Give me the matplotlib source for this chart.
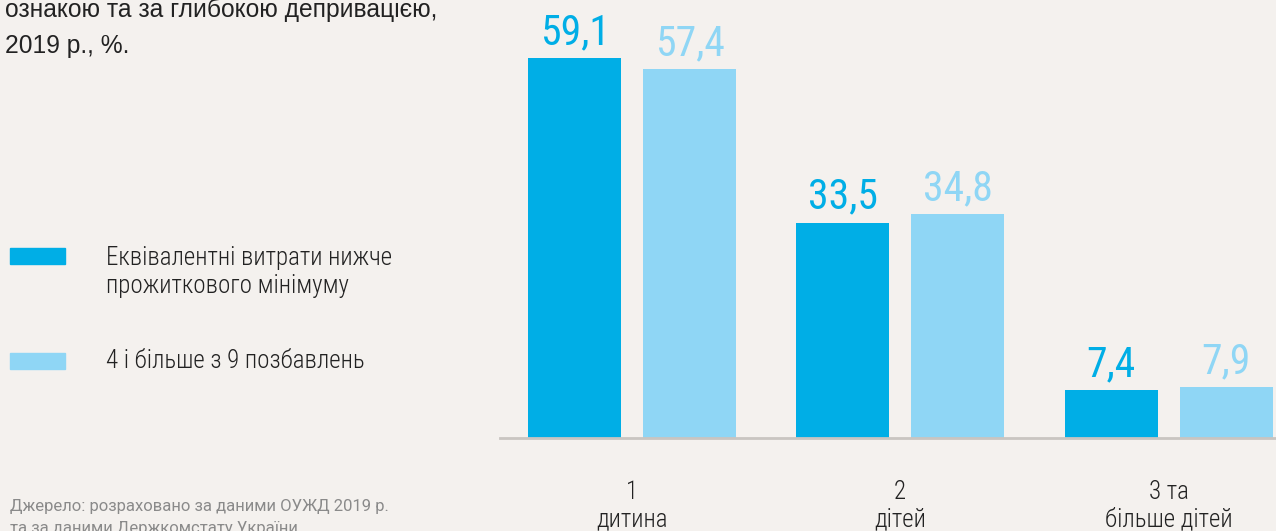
import matplotlib
matplotlib.use("Agg")
import matplotlib.pyplot as plt
from matplotlib.patches import Rectangle
from matplotlib import font_manager as fm
from matplotlib import ft2font

categories = ["1\nдитина", "2\nдітей", "3 та\nбільше дітей"]
series_names = ["Еквівалентні витрати нижче\nпрожиткового мінімуму", "4 і більше з 9 позбавлень"]
below_min = [59.1, 33.5, 7.4]
deprivation = [57.4, 34.8, 7.9]
value_labels_1 = ["59,1", "33,5", "7,4"]
value_labels_2 = ["57,4", "34,8", "7,9"]


def has_cyr(path):
    try:
        cm = ft2font.FT2Font(path).get_charmap()
        return all(c in cm for c in (0x0434, 0x0456, 0x0415, 0x0454, 0x0416))
    except Exception:
        return False


prefs = ["Roboto Condensed", "PT Sans Narrow", "Fira Sans Condensed", "IBM Plex Sans Condensed",
         "Open Sans Condensed", "Archivo Narrow", "Encode Sans Condensed", "Sofia Sans Condensed",
         "Ubuntu Condensed"]


def find_font(weights):
    for p in prefs:
        for w in weights:
            for f in fm.fontManager.ttflist:
                if f.name == p and f.style == "normal" and f.weight == w and has_cyr(f.fname):
                    return f
    return None


reg_font = find_font([400])
light_font = find_font([300, 400]) or reg_font


def fp(size, light=False):
    f = light_font if light else reg_font
    if f is None:
        return fm.FontProperties(family="Roboto", size=size * 0.88,
                                 weight="light" if light else "normal")
    return fm.FontProperties(fname=f.fname, size=size)


BG = "#f4f1ee"
DARK = "#00aee6"
LIGHT = "#8fd6f5"

W, H = 1276, 531
fig = plt.figure(figsize=(W / 100, H / 100), dpi=100, facecolor=BG)

ax = fig.add_axes([500 / W, (H - 438) / H, (1276 - 500) / W, 438 / H])
ax.set_facecolor(BG)
px_per_unit = 268.25
c0 = 632
ax.set_xlim((500 - c0) / px_per_unit, (1276 - c0) / px_per_unit)
ax.set_ylim(0, 438 / 6.43)
bw = 93 / px_per_unit
off = 57.5 / px_per_unit
xs = list(range(len(categories)))
ax.bar([x - off for x in xs], below_min, width=bw, color=DARK)
ax.bar([x + off for x in xs], deprivation, width=bw, color=LIGHT)
for x, v, t in zip(xs, below_min, value_labels_1):
    ax.annotate(t, (x - off, v), xytext=(0, 3.5), textcoords="offset points",
                ha="center", va="bottom", color=DARK, fontproperties=fp(30))
for x, v, t in zip(xs, deprivation, value_labels_2):
    ax.annotate(t, (x + off, v), xytext=(0, 3.5), textcoords="offset points",
                ha="center", va="bottom", color=LIGHT, fontproperties=fp(30))
for s in ax.spines.values():
    s.set_visible(False)
ax.axhline(0, color="#c9c5c1", lw=2, clip_on=False)
ax.set_xticks(xs)
ax.set_xticklabels(categories, color="#222222", linespacing=1.2, fontproperties=fp(18, light=True))
ax.tick_params(axis="x", length=0, pad=30)
ax.set_yticks([])

# title fragment
fig.text(5 / W, 1 - 17 / H, "ознакою та за глибокою депривацією,", fontsize=17.7,
         color="#222222", family="Liberation Sans", va="baseline", ha="left")
fig.text(5 / W, 1 - 53 / H, "2019 р., %.", fontsize=17.7,
         color="#222222", family="Liberation Sans", va="baseline", ha="left")

# legend
colors = [DARK, LIGHT]
patch_y = [256, 361]
text_y = [272, 361]
for c, py, ty, name in zip(colors, patch_y, text_y, series_names):
    fig.patches.append(Rectangle((10 / W, 1 - (py + 8) / H), 55 / W, 16 / H,
                                 transform=fig.transFigure, color=c))
    fig.text(106 / W, 1 - ty / H, name, color="#222222",
             va="center", ha="left", linespacing=1.2, fontproperties=fp(18, light=True))

# source
fig.text(10 / W, 1 - 511 / H, "Джерело: розраховано за даними ОУЖД 2019 р.",
         fontsize=12, color="#8a8a8a", family="Roboto", va="baseline", ha="left")
fig.text(10 / W, 1 - 533 / H, "та за даними Держкомстату України",
         fontsize=12, color="#8a8a8a", family="Roboto", va="baseline", ha="left")

fig.savefig("out.png", dpi=100, facecolor=BG)
